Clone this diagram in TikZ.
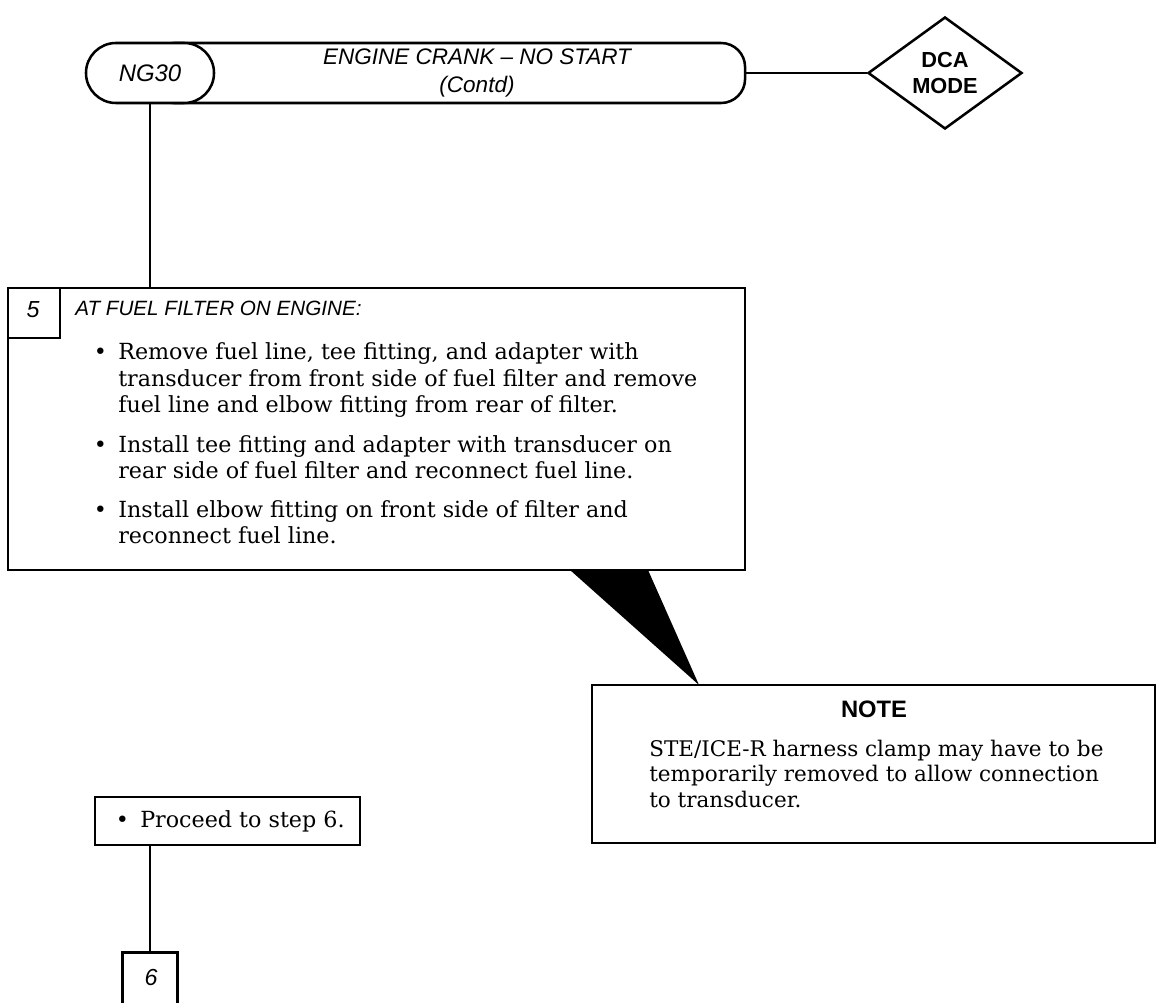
\documentclass[tikz,border=0pt]{standalone}
\usepackage{fontspec}
\setsansfont{Liberation Sans}
\newfontfamily\bodyfont{DejaVu Serif}
\usetikzlibrary{shapes.geometric,shapes.misc}

\tikzset{
  frame/.style={draw, line width=1.8pt, inner sep=0pt},
  hdtxt/.style={font=\fontsize{16}{20}\selectfont\sffamily\itshape, align=center, inner sep=0pt},
  numtxt/.style={font=\fontsize{16.5}{18}\selectfont\sffamily\itshape, inner sep=0pt},
  bftxt/.style={font=\fontsize{15.5}{18}\selectfont\sffamily\bfseries, align=center, inner sep=0pt},
  bodytxt/.style={font=\fontsize{15.8}{19}\bodyfont, anchor=base west, inner sep=0pt},
  notetxt/.style={font=\fontsize{15.3}{18}\bodyfont, anchor=base west, inner sep=0pt},
  wire/.style={line width=1.8pt},
}

\begin{document}
\begin{tikzpicture}[x=0.025cm, y=-0.025cm]
  \useasboundingbox (0,0) rectangle (1156,1003);

  % header
  \node[frame, rounded corners=0.6cm, minimum width=14.875cm, minimum height=1.5cm] (hdr) at (447.5,73) {};
  \node[frame, fill=white, rounded rectangle, minimum width=3.2cm, minimum height=1.5cm] (ng30) at (150,73) {};
  \node[numtxt, font=\fontsize{17}{18}\selectfont\sffamily\itshape] (ng30t) at (ng30) {NG30};
  \node[hdtxt] (hdrt) at (477,73) {ENGINE CRANK -- NO START\\(Contd)};
  \node[frame, diamond, aspect=1.375, minimum width=3.85cm, minimum height=2.8cm] (dca) at (945,73) {};
  \node[bftxt] (dcat) at (dca) {DCA\\MODE};
  \draw[wire] (hdr.east) -- (dca.west);

  % step 5
  \node[frame, minimum width=18.425cm, minimum height=7.05cm] (s5) at (376.5,429) {};
  \node[frame, minimum width=1.3cm, minimum height=1.25cm] (n5) at (34,313) {};
  \node[numtxt] (n5t) at (33,310) {5};
  \node[hdtxt, font=\fontsize{14.7}{17}\selectfont\sffamily\itshape, anchor=base west] (s5h) at (75,316) {AT FUEL FILTER ON ENGINE:};
  \foreach \ty [count=\i] in {360,452,517}
    \node[bodytxt] (s5b\i) at (93.5,\ty) {\textbullet};
  \foreach \ty/\tx [count=\i] in {
      360/{Remove fuel line, tee fitting, and adapter with},
      386.5/{transducer from front side of fuel filter and remove},
      413/{fuel line and elbow fitting from rear of filter.},
      452/{Install tee fitting and adapter with transducer on},
      478.5/{rear side of fuel filter and reconnect fuel line.},
      517/{Install elbow fitting on front side of filter and},
      543.5/{reconnect fuel line.}}
    \node[bodytxt] (s5l\i) at (118,\ty) {\tx};
  \draw[wire] (ng30.south) -- (ng30.south |- s5.north);

  % note callout
  \node[frame, minimum width=14.075cm, minimum height=3.95cm] (note) at (873.5,764) {};
  \node[bftxt, font=\fontsize{16.9}{18}\selectfont\sffamily\bfseries] (notet) at (874,709) {NOTE};
  \foreach \ty/\tx [count=\i] in {
      756/{STE/ICE-R harness clamp may have to be},
      781.5/{temporarily removed to allow connection},
      807/{to transducer.}}
    \node[notetxt] (notel\i) at (649,\ty) {\tx};
  \coordinate (clA) at (570,570);
  \coordinate (clB) at (648,570);
  \coordinate (clC) at (699,685);
  \fill (clA) -- (clB) -- (clC) -- cycle;

  % proceed
  \node[frame, minimum width=6.625cm, minimum height=1.2cm] (go6) at (227.5,821) {};
  \node[bodytxt] (go6b) at (115.5,827) {\textbullet};
  \node[bodytxt] (go6t) at (140,827) {Proceed to step 6.};
  \draw[wire] (s5.south -| ng30.south) -- (s5.south -| ng30.south |- go6.north);

  % step 6
  \node[minimum width=1.35cm, minimum height=1.25cm, inner sep=0pt] (n6) at (150,978) {};
  \node[numtxt] (n6t) at (151,978) {6};
  \draw[line width=1.8pt] (n6.south west) -- (n6.north west) -- (n6.north east) -- (n6.south east);
  \draw[wire] (go6.south -| n6.north) -- (n6.north);
\end{tikzpicture}
\end{document}
